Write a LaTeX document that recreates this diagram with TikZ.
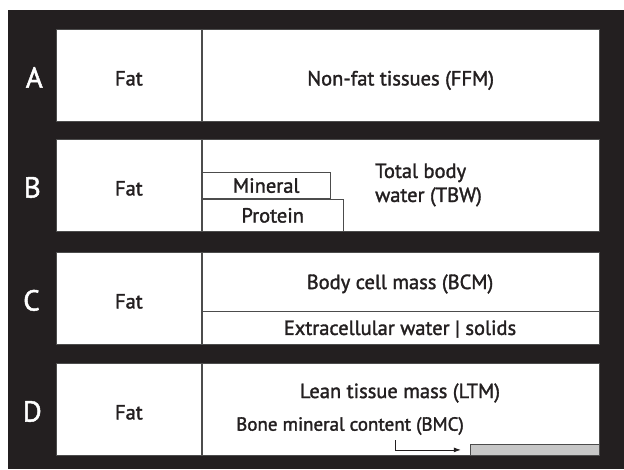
\documentclass[tikz,border=0pt]{standalone}
\usepackage{fontspec}
\setmainfont{PT Sans}[FakeBold=1.6]
\usetikzlibrary{positioning,arrows.meta}
\definecolor{inkblack}{HTML}{231F20}
\tikzset
{
  panel/.style={draw=black!70,fill=white,line width=0.8pt,inner sep=0pt,minimum height=92pt,
                text=inkblack,font=\fontsize{20.5}{24}\selectfont,text height=20pt,text depth=0pt},
  partbox/.style={draw=black!70,line width=0.8pt,inner sep=0pt,
                  text=inkblack,font=\fontsize{20.5}{24}\selectfont},
  parttext/.style={inner sep=0pt,text=inkblack,font=\fontsize{20.5}{24}\selectfont},
  rowletter/.style={inner sep=0pt,text=white,font=\fontsize{29}{32}\selectfont},
  bmcbar/.style={draw=black!70,fill=black!22,line width=0.8pt,inner sep=0pt},
  pointer/.style={draw=inkblack,line width=0.8pt,-{Latex[length=7pt,width=5pt]}}
}

\begin{document}
\begin{tikzpicture}[x=1pt,y=-1pt]
        \useasboundingbox (0,0) rectangle (624,469);
        % Draw black frame
        \fill[inkblack] (8,10) rectangle (624,469);

        % Row A
        \node[panel, minimum width=145pt, anchor=north west] (fatA) at (56,29) {Fat};
        \node[panel, minimum width=397pt, right=0pt of fatA] (ffm) {Non-fat tissues (FFM)};
        \node[rowletter, left=13pt of fatA, yshift=-2pt] (letA) {A};

        % Row B
        \node[panel, minimum width=145pt, anchor=north west] (fatB) at (56,139) {Fat};
        \node[panel, minimum width=397pt, right=0pt of fatB] (restB) {};
        \node[rowletter, left=15pt of fatB, yshift=-2pt] (letB) {B};
        \node[partbox, minimum width=141pt, minimum height=32pt, anchor=south west] (protein) at (restB.south west) {Protein};
        \node[partbox, minimum width=128pt, minimum height=26pt, anchor=south west] (mineral) at (protein.north west) {Mineral};
        \node[parttext, align=left, anchor=west] (tbw) at (375,185) {Total body\\water (TBW)};

        % Row C
        \node[panel, minimum width=145pt, anchor=north west] (fatC) at (56,252) {Fat};
        \node[panel, minimum width=397pt, right=0pt of fatC] (restC) {};
        \node[rowletter, left=16pt of fatC, yshift=-2pt] (letC) {C};
        \coordinate (splitC) at (201,311);
        \draw[draw=black!70, line width=0.8pt] (splitC) -- (splitC -| restC.east);
        \node[parttext] (bcm) at (400,284) {Body cell mass (BCM)};
        \node[parttext] (ecw) at (400,329) {Extracellular water | solids};

        % Row D
        \node[panel, minimum width=145pt, anchor=north west] (fatD) at (56,363) {Fat};
        \node[panel, minimum width=397pt, right=0pt of fatD] (restD) {};
        \node[rowletter, left=14pt of fatD, yshift=-2pt] (letD) {D};
        \node[parttext] (ltm) at (400,393) {Lean tissue mass (LTM)};
        \node[parttext, font=\fontsize{19}{22}\selectfont] (bmc) at (350,426) {Bone mineral content (BMC)};
        \node[bmcbar, minimum width=129pt, minimum height=11pt, anchor=south east] (bmcbox) at (restD.south east) {};

        % Arrow to bone mineral
        \coordinate (bmcstart) at (395,440);
        \draw[pointer, shorten >=9pt] (bmcstart) |- (bmcbox.west);
\end{tikzpicture}
\end{document}
